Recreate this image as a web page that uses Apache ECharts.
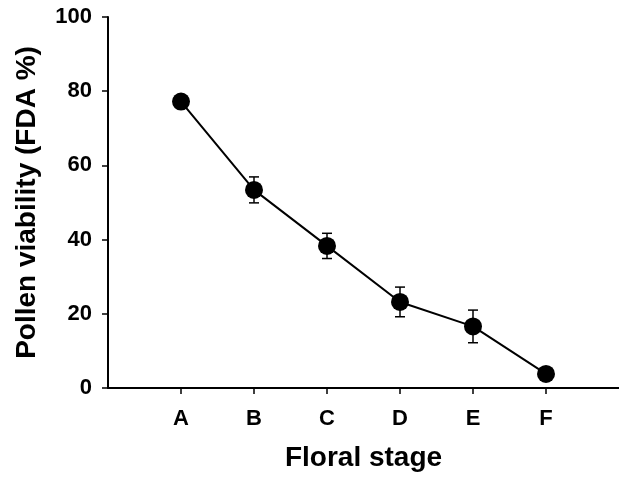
<!DOCTYPE html>
<html>
<head>
<meta charset="utf-8">
<script src="https://cdn.jsdelivr.net/npm/echarts@6/dist/echarts.min.js"></script>
<style>
  html, body { margin: 0; padding: 0; background: #fff; }
  #chart { width: 619px; height: 477px; }
</style>
</head>
<body>
<div id="chart"></div>
<script>
// floral stages, plotted at x = 1..6
var stages = ['A', 'B', 'C', 'D', 'E', 'F'];
var stagePos = [1, 2, 3, 4, 5, 6];
// pollen viability (FDA %) and its error (±)
var viability = [77.2, 53.4, 38.3, 23.2, 16.6, 3.8];
var errors = [1.3, 3.5, 3.4, 4.0, 4.4, 1.0];
var yTicks = [0, 20, 40, 60, 80, 100];

var font = '"Liberation Sans", Arial, sans-serif';

var points = [];
var bars = [];
for (var i = 0; i < stages.length; i++) {
    points.push([stagePos[i], viability[i]]);
    bars.push([stagePos[i], viability[i] - errors[i], viability[i] + errors[i]]);
}

var myChart = echarts.init(document.getElementById('chart'));
myChart.setOption({
    animation: false,
    grid: {
        left: 108,
        top: 17,
        right: -3,
        bottom: 89
    },
    xAxis: {
        type: 'value',
        min: 0,
        max: 7,
        interval: 1,
        name: 'Floral stage',
        nameLocation: 'middle',
        nameGap: 56,
        nameTextStyle: {
            fontFamily: font,
            fontWeight: 'bold',
            fontSize: 28,
            color: '#000'
        },
        axisLine: {
            show: true,
            lineStyle: { color: '#000', width: 2 }
        },
        axisTick: {
            show: true,
            length: 6,
            customValues: stagePos,
            lineStyle: { color: '#000', width: 1.5 }
        },
        axisLabel: {
            customValues: stagePos,
            margin: 20,
            fontFamily: font,
            fontWeight: 'bold',
            fontSize: 22,
            color: '#000',
            formatter: function (value) {
                return stages[value - 1] || '';
            }
        },
        splitLine: { show: false }
    },
    yAxis: {
        type: 'value',
        min: yTicks[0],
        max: yTicks[yTicks.length - 1],
        interval: 20,
        name: 'Pollen viability (FDA %)',
        nameLocation: 'middle',
        nameGap: 67,
        nameTextStyle: {
            fontFamily: font,
            fontWeight: 'bold',
            fontSize: 28,
            color: '#000'
        },
        axisLine: {
            show: true,
            lineStyle: { color: '#000', width: 2 }
        },
        axisTick: {
            show: true,
            length: 6,
            lineStyle: { color: '#000', width: 1.5 }
        },
        axisLabel: {
            margin: 16,
            fontFamily: font,
            fontWeight: 'bold',
            fontSize: 22,
            color: '#000'
        },
        splitLine: { show: false }
    },
    series: [{
        name: 'error',
        type: 'custom',
        data: bars,
        z: 1,
        renderItem: function (params, api) {
            var x = api.value(0);
            var lo = api.coord([x, api.value(1)]);
            var hi = api.coord([x, api.value(2)]);
            var w = 5;
            var style = { stroke: '#000', lineWidth: 1.5, fill: null };
            return {
                type: 'group',
                children: [
                    { type: 'line', shape: { x1: lo[0], y1: lo[1], x2: hi[0], y2: hi[1] }, style: style },
                    { type: 'line', shape: { x1: lo[0] - w, y1: lo[1], x2: lo[0] + w, y2: lo[1] }, style: style },
                    { type: 'line', shape: { x1: hi[0] - w, y1: hi[1], x2: hi[0] + w, y2: hi[1] }, style: style }
                ]
            };
        }
    }, {
        name: 'viability',
        type: 'line',
        data: points,
        z: 2,
        symbol: 'circle',
        symbolSize: 18,
        lineStyle: { color: '#000', width: 2 },
        itemStyle: { color: '#000' }
    }]
});
</script>
</body>
</html>
